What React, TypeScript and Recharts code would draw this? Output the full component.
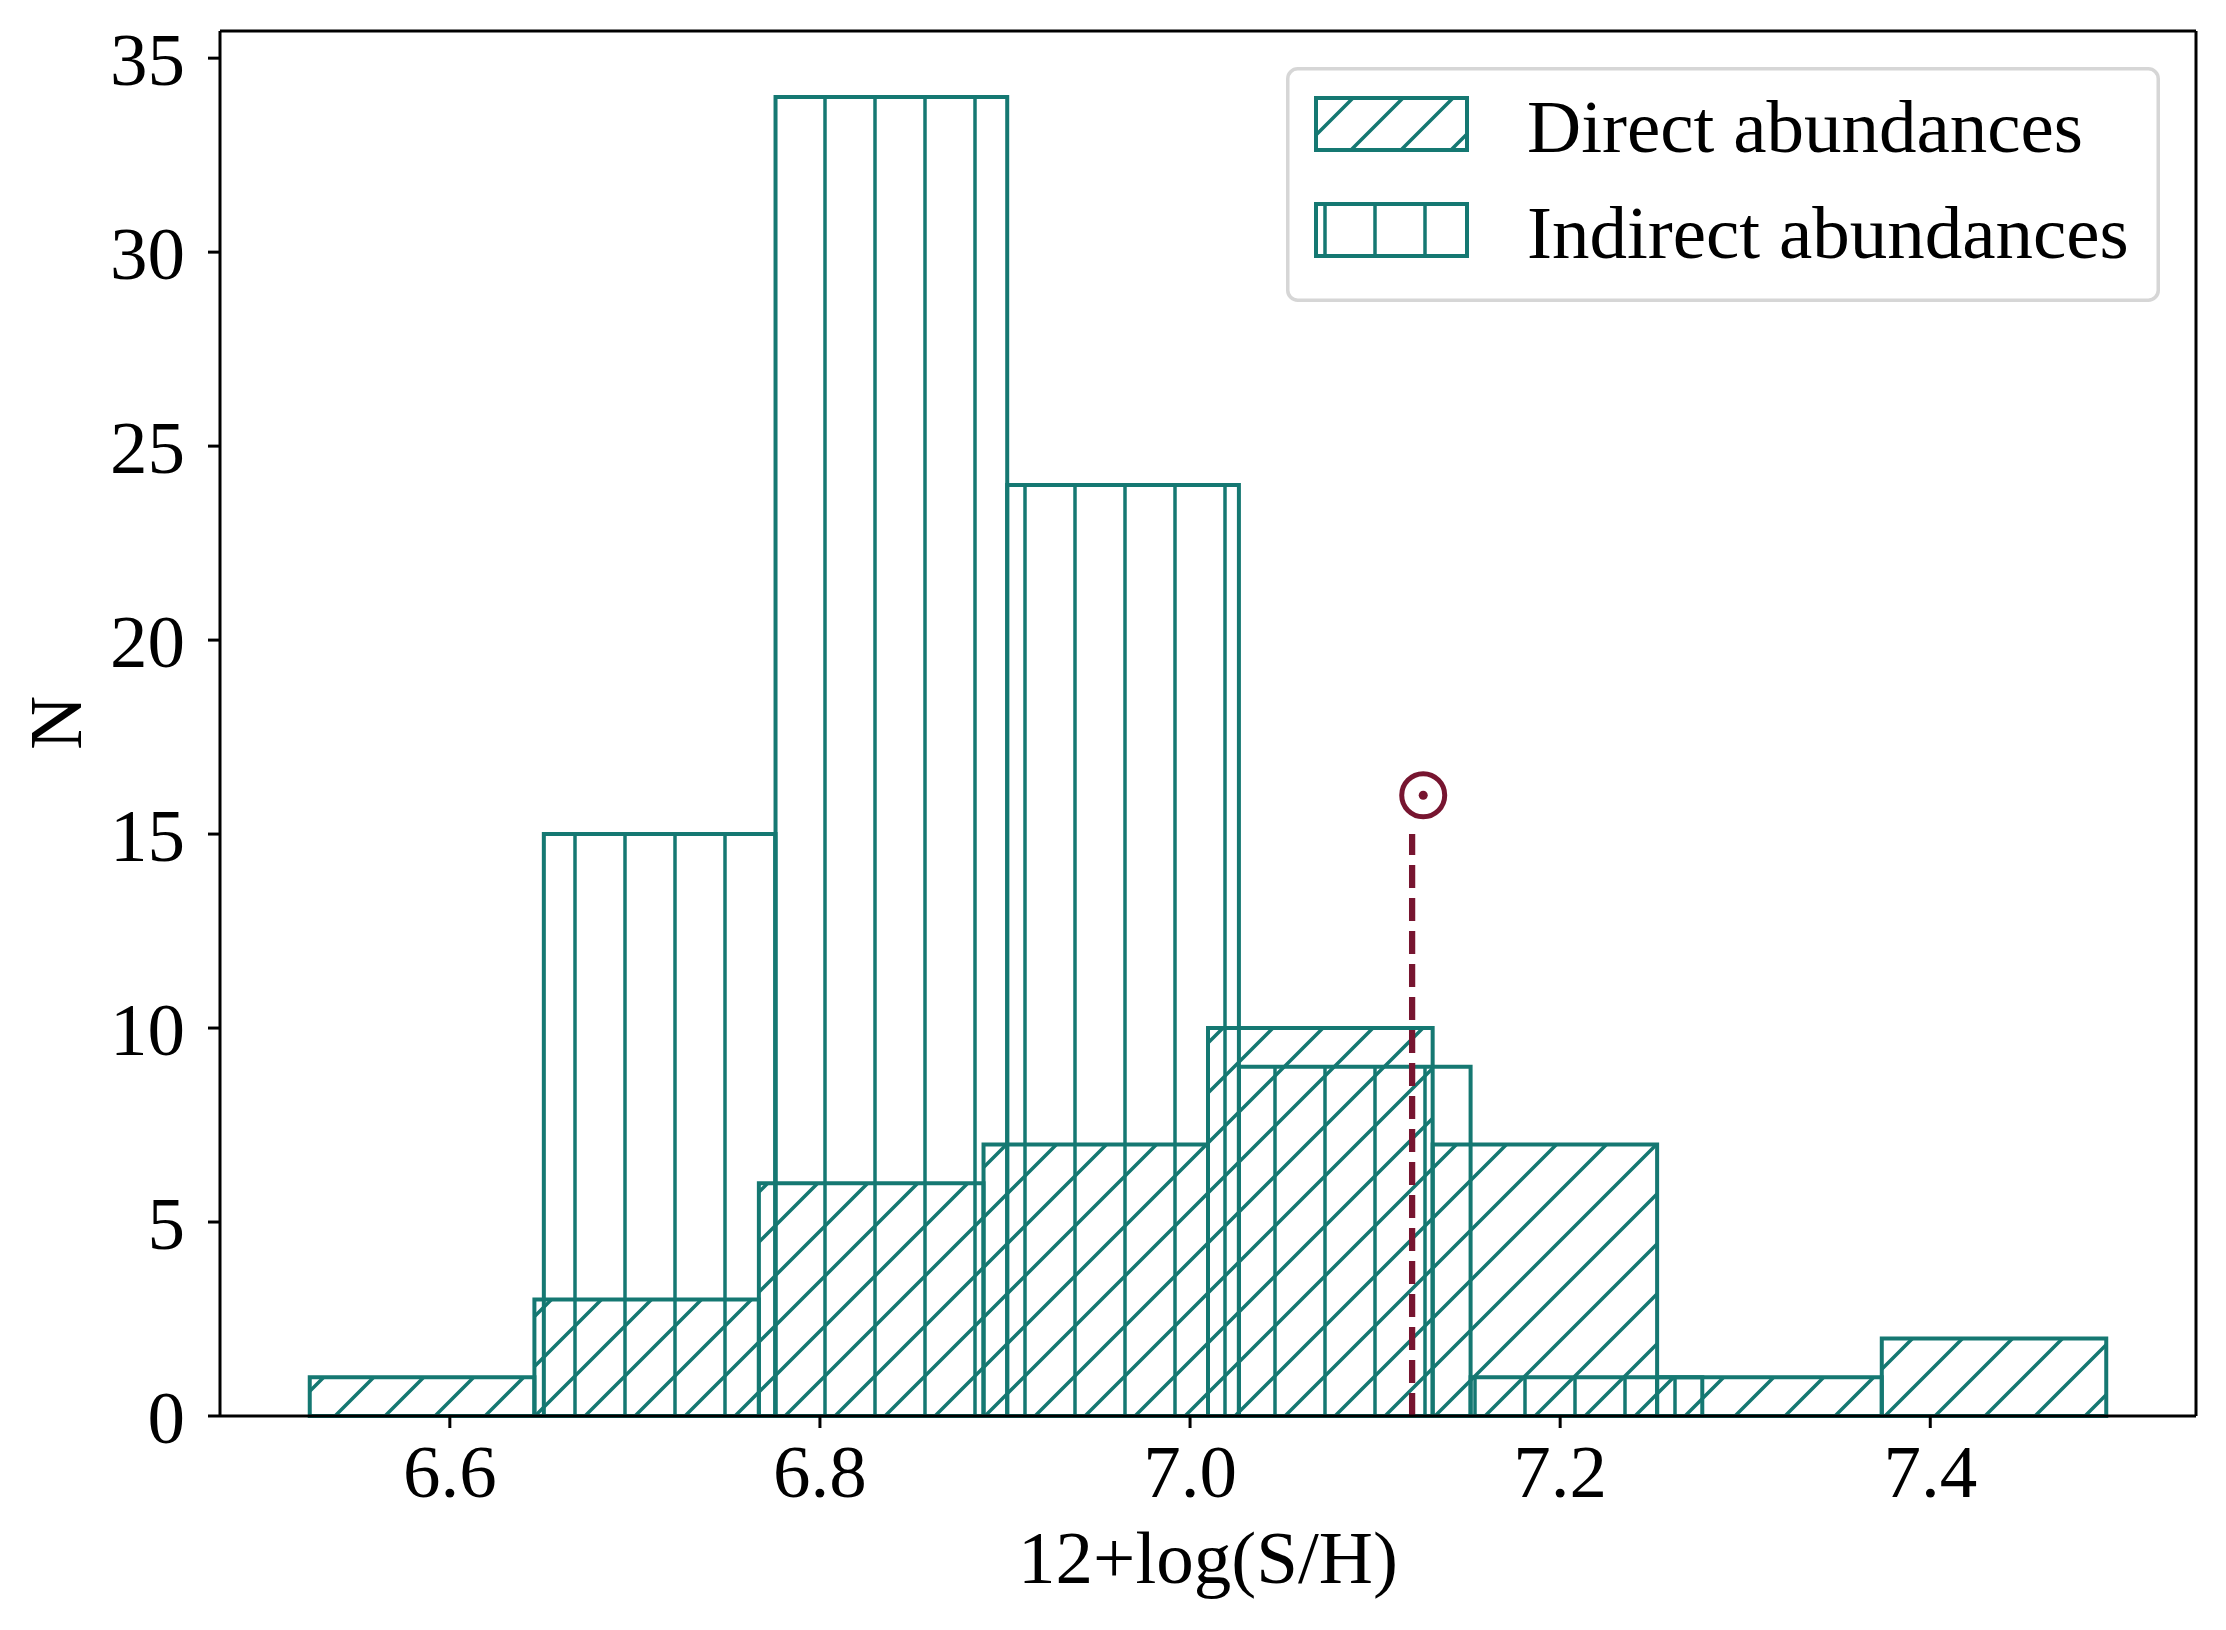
import React from 'react'
import {
  ComposedChart,
  XAxis,
  YAxis,
  Line,
  Scatter,
  ReferenceArea,
  ReferenceLine,
  Legend,
  Label,
} from 'recharts'

// histogram bin edges and counts
const directEdges = [6.5243, 6.6457, 6.767, 6.8884, 7.0097, 7.1311, 7.2524, 7.3738, 7.4951]
const directCounts = [1, 3, 6, 7, 10, 7, 1, 2]
const indirectEdges = [6.6508, 6.776, 6.9012, 7.0264, 7.1516, 7.2768]
const indirectCounts = [15, 34, 24, 9, 1]

// solar value marker
const solarLine = [
  { x: 7.12, y: 0 },
  { x: 7.12, y: 15 },
]
const solarSymbol = [{ x: 7.126, y: 16 }]

const xTicks = [6.6, 6.8, 7.0, 7.2, 7.4]
const yTicks = [0, 5, 10, 15, 20, 25, 30, 35]
const xDomain = [6.4758, 7.5436]
const yDomain = [0, 35.7]

const seriesNames = ['Direct abundances', 'Indirect abundances']
const seriesHatch = ['diag', 'vert']

const TEAL = '#157872'
const SOLAR = '#771530'
const FONT = '"Liberation Serif", "Times New Roman", serif'

const Patterns = ({ ox = 0, oy = 0, suffix = '' }: { ox?: number; oy?: number; suffix?: string }) => (
  <defs>
    <pattern id={'diag' + suffix} patternUnits="userSpaceOnUse" x={ox} y={oy} width={50} height={50}>
      <path d="M-5,6 L6,-5 M-5,56 L56,-5 M45,56 L56,45" stroke={TEAL} strokeWidth={3.5} fill="none" />
    </pattern>
    <pattern id={'vert' + suffix} patternUnits="userSpaceOnUse" x={ox} y={oy} width={50} height={50}>
      <path d="M25,-5 L25,55" stroke={TEAL} strokeWidth={3.5} fill="none" />
    </pattern>
  </defs>
)

const LEG_X = 1286
const LEG_Y = 67
const LEG_W = 874
const LEG_H = 235

const LegendBox = () => (
  <svg width={LEG_W} height={LEG_H} style={{ display: 'block' }}>
    <Patterns ox={-LEG_X} oy={-LEG_Y} suffix="L" />
    <rect
      x={1.75}
      y={1.75}
      width={LEG_W - 3.5}
      height={LEG_H - 3.5}
      rx={10}
      fill="#fff"
      fillOpacity={0.8}
      stroke="#d6d6d6"
      strokeWidth={3.5}
    />
    {seriesNames.map((name, i) => (
      <g key={name}>
        <rect
          x={30}
          y={31 + i * 106}
          width={151}
          height={52}
          fill={`url(#${seriesHatch[i]}L)`}
          stroke={TEAL}
          strokeWidth={4}
        />
        <text x={241} y={85 + i * 106} fontFamily={FONT} fontSize={75} fill="#000">
          {name}
        </text>
      </g>
    ))}
  </svg>
)

const SolarMark = (props: any) => {
  const { cx, cy } = props
  return (
    <g>
      <circle cx={cx} cy={cy} r={21.5} fill="none" stroke={SOLAR} strokeWidth={5} />
      <circle cx={cx} cy={cy} r={4.5} fill={SOLAR} />
    </g>
  )
}

const tickStyle = { fontSize: 75, fill: '#000', fontFamily: FONT }

export default function App() {
  return (
    <div style={{ position: 'absolute', left: 0, top: 0, background: '#fff' }}>
      <ComposedChart width={2226} height={1630} margin={{ top: 31, right: 30, bottom: 0, left: 0 }}>
        <Patterns />
        <XAxis
          type="number"
          dataKey="x"
          domain={xDomain}
          allowDataOverflow
          ticks={xTicks}
          interval={0}
          tickFormatter={(v: number) => v.toFixed(1)}
          height={214}
          tickSize={12}
          tickMargin={16}
          tick={tickStyle}
          tickLine={{ stroke: '#000', strokeWidth: 3 }}
          axisLine={{ stroke: '#000', strokeWidth: 3 }}
        >
          <Label
            value="12+log(S/H)"
            position="insideBottom"
            offset={47}
            style={{ fontSize: 75, fill: '#000', fontFamily: FONT }}
          />
        </XAxis>
        <YAxis
          type="number"
          dataKey="y"
          domain={yDomain}
          allowDataOverflow
          ticks={yTicks}
          interval={0}
          width={220}
          tickSize={12}
          tickMargin={23}
          tick={tickStyle}
          tickLine={{ stroke: '#000', strokeWidth: 3 }}
          axisLine={{ stroke: '#000', strokeWidth: 3 }}
        >
          <Label
            content={() => (
              <text
                x={81}
                y={723}
                transform="rotate(-90, 81, 723)"
                textAnchor="middle"
                fontFamily={FONT}
                fontSize={75}
                fill="#000"
              >
                N
              </text>
            )}
          />
        </YAxis>

        {directCounts.map((c, i) => (
          <ReferenceArea
            key={'d' + i}
            x1={directEdges[i]}
            x2={directEdges[i + 1]}
            y1={0}
            y2={c}
            fill="url(#diag)"
            fillOpacity={1}
            stroke={TEAL}
            strokeWidth={4}
          />
        ))}
        {indirectCounts.map((c, i) => (
          <ReferenceArea
            key={'i' + i}
            x1={indirectEdges[i]}
            x2={indirectEdges[i + 1]}
            y1={0}
            y2={c}
            fill="url(#vert)"
            fillOpacity={1}
            stroke={TEAL}
            strokeWidth={4}
          />
        ))}

        <ReferenceLine y={yDomain[1]} stroke="#000" strokeWidth={3} />
        <ReferenceLine x={xDomain[1]} stroke="#000" strokeWidth={3} />

        <Line
          data={solarLine}
          dataKey="y"
          stroke={SOLAR}
          strokeWidth={6.25}
          strokeDasharray="23 10"
          dot={false}
          activeDot={false}
          isAnimationActive={false}
          legendType="none"
        />
        <Scatter data={solarSymbol} dataKey="y" shape={SolarMark} isAnimationActive={false} legendType="none" />

        <Legend
          layout="horizontal"
          verticalAlign="middle"
          align="center"
          content={() => <LegendBox />}
          wrapperStyle={{ position: 'absolute', left: LEG_X, top: LEG_Y, width: LEG_W, height: LEG_H, margin: 0 }}
        />
      </ComposedChart>
    </div>
  )
}
